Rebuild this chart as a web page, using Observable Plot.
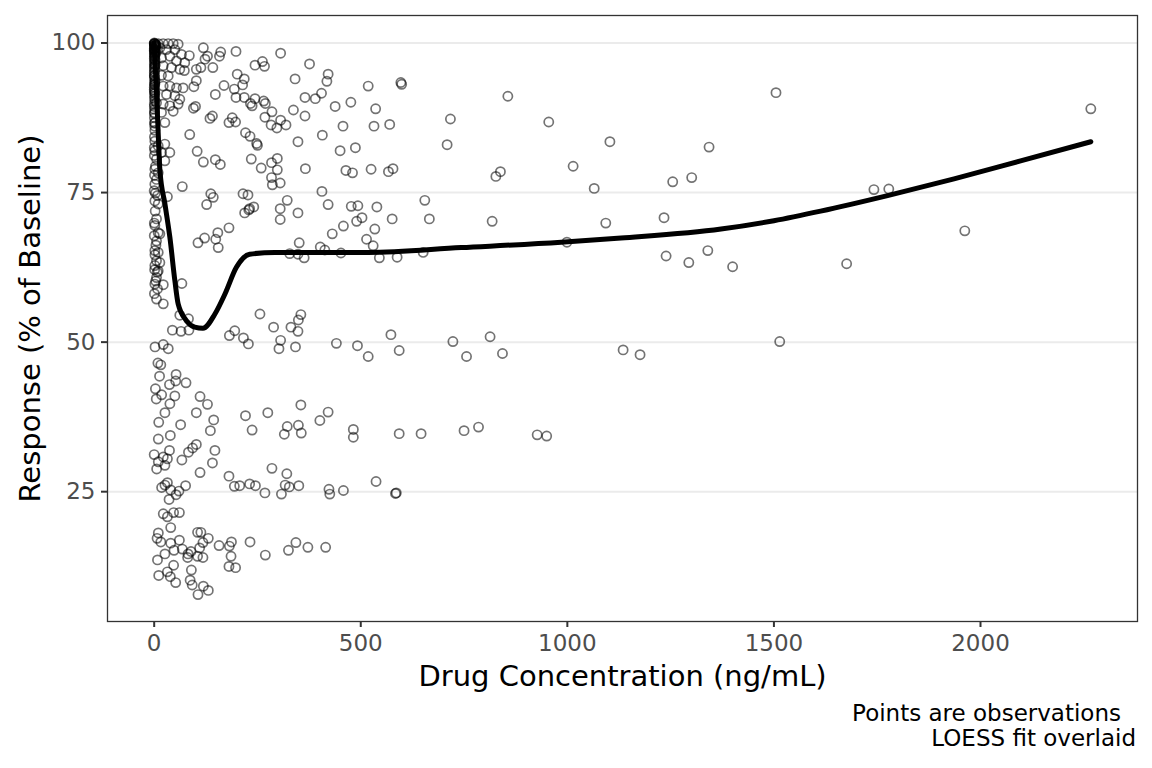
<!DOCTYPE html>
<html>
<head>
<meta charset="utf-8">
<script src="https://cdn.jsdelivr.net/npm/d3@7"></script>
<script src="https://cdn.jsdelivr.net/npm/@observablehq/plot@0.6"></script>
<style>
  body { margin: 0; background: #fff; font-family: "DejaVu Sans", sans-serif; }
  #chart { width: 1152px; }
  .caption { width: 1152px; font-size: 23px; line-height: 25px; text-align: right; color: #000; padding-top: 1px; }
  .caption div { padding-right: 16px; }
  .caption div.l1 { padding-right: 31px; }
</style>
</head>
<body>
<div id="chart"></div>
<div class="caption"><div class="l1">Points are observations</div><div>LOESS fit overlaid</div></div>
<script>
// Observed drug concentration (ng/mL)
const conc = [
  // far right
  2267,1505,1514,1962,1778,1742,1676,1400,1343,1340,1301,1294,1255,1234,1239,1135,1176,
  // 500-1130, upper
  518,597,599,856,536,532,570,717,955,709,1103,525,567,578,827,838,1014,1065,539,576,655,666,818,1093,534,514,530,545,588,651,999,
  // 500-1130, lower
  573,518,593,723,756,813,843,593,646,750,785,927,950,537,584,586,
  // 70-500, upper
  119,161,158,198,306,129,123,142,102,113,85,73,244,262,267,376,341,421,418,201,218,214,169,102,96,148,194,198,218,244,265,269,237,233,365,390,405,438,476,337,365,285,268,306,283,297,319,189,181,197,141,135,95,100,86,221,232,250,248,348,407,457,450,487,104,119,148,160,235,259,284,298,298,366,464,480,284,286,305,
  // middle band
  68,32,137,143,127,215,227,219,231,241,229,322,305,348,305,406,421,477,493,503,490,458,431,181,154,149,155,122,106,351,328,348,363,402,413,452,67,22,22,256,355,349,62,83,
  // around 50 and below
  44,65,84,182,195,216,228,289,331,348,306,302,342,441,492,2,22,34,9,16,13,53,37,52,77,3,18,5,50,38,26,11,111,129,102,144,136,64,39,10,221,275,355,401,421,237,322,349,315,356,482,482,0,10,22,32,6,26,37,83,102,93,67,147,141,111,181,285,321,
  // 25 and below
  194,207,231,245,268,308,317,327,350,423,425,458,18,26,32,40,53,60,36,76,22,32,47,61,40,10,7,16,40,61,68,48,26,82,105,113,131,118,110,89,105,118,81,157,182,187,186,181,197,232,269,325,343,372,415,8,11,32,39,52,47,90,87,92,106,119,131,
  // left column, high response
  1.6,9.7,21.8,33.9,46,58,0.5,13.7,29.8,50,66,1.6,17.7,37.9,54,74,1.6,21.8,41.9,62,0.5,17.7,33.9,1.6,21.8,37.9,54,70,1.6,29.8,50,62,5.6,21.8,37.9,58,0.5,17.7,46,1.6,25.8,1.6,9.7,25.8,1.6,17.7,37.9,5.6,25.8,1.6,9.7,5.6,
  // dense blob near zero
  0.5,1,0.2,1.5,0.8,0.3,1.2,0.6,1,0.4,1.8,0.7,0.2,1.4,0.9,0.3,1.1,0.5,0.8,1.6,2.5,3,2.2,4,
  0.1,0.3,0.6,0.9,1.3,0.2,0.5,0.8,1.1,0.4,0.7,1.5,2.1,0.3,0.6,1.0,0.2,0.5,0.9,1.7,0.4,0.8,2.6,3.4,1.2,0.6,0.3,1.9,4.5,5.2,
  // left column, middle response
  1.6,0,8,1.6,9.7,5.6,1.6,9.7,5.6,1.6,9.7,5.6,1.6,9.7,5.6,1.6,8,5.6,13.7,13.7,7.3,
  0.4,3.1,0.8,2.4,0.2,4.2,1.1,3.6,0.6,2.9,0.3,1.8
];
// Response (% of baseline)
const response = [
  89.0,91.7,50.1,68.6,75.6,75.5,63.1,62.6,82.6,65.3,77.5,63.3,76.8,70.8,64.4,48.7,47.9,
  92.8,93.4,93.1,91.1,89.0,86.1,86.4,87.3,86.8,83.0,83.5,78.9,78.5,79.0,77.7,78.5,79.4,75.7,72.6,70.6,73.7,70.6,70.2,69.9,68.9,67.2,66.1,64.1,64.2,65.0,66.7,
  51.25,47.6,48.6,50.1,47.6,50.9,48.1,34.7,34.7,35.2,35.8,34.5,34.3,26.7,24.7,24.8,
  99.2,98.5,97.8,98.6,98.3,97.8,97.3,95.9,95.6,95.9,97.9,95.4,96.3,96.9,96.1,96.5,94.0,94.8,93.6,94.8,94.0,93.0,92.9,93.7,92.7,91.4,92.3,90.9,90.9,90.7,90.3,89.9,89.5,89.9,90.9,90.7,91.6,89.4,90.1,88.8,87.8,88.5,87.6,87.1,86.3,85.8,86.3,87.5,86.7,86.8,87.8,87.4,89.1,89.4,84.7,85.0,84.4,82.9,83.2,83.5,84.6,86.1,82.0,82.5,81.9,80.1,80.5,79.7,80.6,79.1,80.0,80.7,78.8,79.0,78.7,78.3,77.5,76.3,76.6,
  76.0,74.3,74.8,74.2,73.0,74.8,74.6,71.6,72.3,72.6,72.1,73.7,72.3,71.6,70.5,75.2,73.0,72.7,72.8,70.8,70.2,69.4,68.1,69.1,68.3,67.2,65.8,67.4,66.6,66.6,64.8,64.7,64.1,65.9,65.4,64.9,59.8,59.6,56.4,54.7,54.6,53.7,54.5,53.9,
  52.0,51.8,52.0,51.1,51.9,50.7,49.7,52.5,52.5,51.8,50.3,48.9,49.2,49.8,49.4,49.2,49.6,48.9,46.5,46.2,44.3,44.6,42.9,43.5,43.2,42.2,41.2,40.5,41.0,39.7,38.2,36.6,40.9,39.6,38.2,37.0,35.2,36.2,34.4,33.8,37.7,38.2,39.5,36.9,38.3,35.3,35.9,36.1,34.6,34.8,35.4,34.1,31.2,30.0,30.8,30.5,28.8,29.4,31.9,31.6,32.9,32.3,30.3,31.9,29.8,28.2,27.6,28.9,28.0,
  25.9,26.0,26.3,26.0,24.8,24.6,26.1,25.8,26.0,25.4,24.6,25.2,25.7,26.1,26.5,25.3,24.5,25.1,23.7,26.0,21.3,20.8,21.5,21.5,19.0,18.1,17.2,16.6,16.4,16.9,15.4,15.2,14.6,14.6,18.2,18.2,17.2,16.5,15.6,15.0,14.2,14.0,14.0,16.0,15.9,16.6,14.2,12.5,12.3,16.6,14.4,15.2,16.5,15.7,15.7,13.6,11.0,11.6,10.8,9.8,12.7,11.9,10.2,9.4,7.8,9.2,8.5,
  99.9,99.9,99.9,99.9,99.9,99.8,98.9,99.2,98.9,98.9,98.1,97.8,97.5,97.8,97.0,96.7,96.2,96.2,95.9,95.6,94.5,94.6,94.5,93.1,92.8,92.8,92.5,92.5,91.7,91.4,91.2,90.6,90.0,89.8,89.5,89.8,88.4,88.4,88.6,86.7,86.7,83.6,82.8,83.1,82.0,81.7,81.7,80.6,80.3,78.9,78.3,77.2,
  99.9,99.5,99.0,98.5,98.0,97.4,96.8,96.0,95.3,94.6,93.8,93.0,92.2,91.5,90.7,89.8,88.9,87.5,86.6,85.4,99.7,98.8,97.2,99.4,
  100,99.8,99.6,99.9,99.3,98.7,98.3,97.7,97.1,96.5,95.7,99.1,98.2,95.1,94.2,93.4,92.6,91.9,91.1,90.3,89.4,88.2,96.4,99.6,86.1,84.3,82.5,93.6,98.4,99.7,
  76.4,75.3,74.5,73.6,73.1,70.6,69.5,68.3,66.9,65.3,65.0,63.6,62.8,61.9,60.8,59.7,58.9,57.2,68.1,63.3,61.7,
  81.2,79.4,77.9,71.9,67.8,66.2,62.1,60.2,58.1,74.9,69.9,64.6
];
// LOESS fit
const fitConc = [0,4,8,14,26,38,50,58,78,98,118,147,171,199,231,292,518,743,985,1130,1372,1500,1613,1775,1936,2097,2267];
const fitResp = [100,94,87.8,78.6,73.1,67.5,60.3,56.4,53.6,52.5,52.3,54.7,58.0,62.5,64.7,65.0,65.0,65.8,66.7,67.4,68.9,70.3,71.9,74.5,77.3,80.3,83.5];

const xTicks = [0, 500, 1000, 1500, 2000];
const yTicks = [25, 50, 75, 100];
const xTitle = "Drug Concentration (ng/mL)";
const yTitle = "Response (% of Baseline)";

const n = Math.min(conc.length, response.length);
const obs = d3.range(n).map(i => ({conc: conc[i], resp: response[i]}));
const fit = fitConc.map((c, i) => ({conc: c, resp: fitResp[i]}));

const chart = Plot.plot({
  width: 1152,
  height: 700,
  marginLeft: 107,
  marginRight: 15,
  marginTop: 15,
  marginBottom: 79,
  style: {fontFamily: "DejaVu Sans, sans-serif", background: "#fff"},
  x: {domain: [-113, 2380]},
  y: {domain: [3.3, 104.6]},
  marks: [
    Plot.gridY(yTicks, {stroke: "#EBEBEB", strokeOpacity: 1, strokeWidth: 2}),
    Plot.dot(obs, {x: "conc", y: "resp", r: 4.6, stroke: "black", strokeOpacity: 0.55, strokeWidth: 1.7, fill: "none"}),
    Plot.line(fit, {x: "conc", y: "resp", stroke: "black", strokeWidth: 5, curve: "monotone-x"}),
    Plot.frame({stroke: "#333333", strokeWidth: 1.3}),
    Plot.axisX({ticks: xTicks, tickFormat: d3.format("d"), tickSize: 6, tickPadding: 7, fontSize: 23, label: null, stroke: "#333333", strokeWidth: 2, fill: "#4D4D4D"}),
    Plot.axisY({ticks: yTicks, tickFormat: d3.format("d"), tickSize: 6, tickPadding: 6, fontSize: 23, label: null, stroke: "#333333", strokeWidth: 2, fill: "#4D4D4D"}),
    Plot.text([xTitle], {frameAnchor: "bottom", dy: 55, lineAnchor: "middle", textAnchor: "middle", fontSize: 29, fill: "black"}),
    Plot.text([yTitle], {frameAnchor: "left", dx: -77, rotate: -90, lineAnchor: "middle", textAnchor: "middle", fontSize: 29, fill: "black"})
  ]
});
document.getElementById("chart").appendChild(chart);
</script>
</body>
</html>
